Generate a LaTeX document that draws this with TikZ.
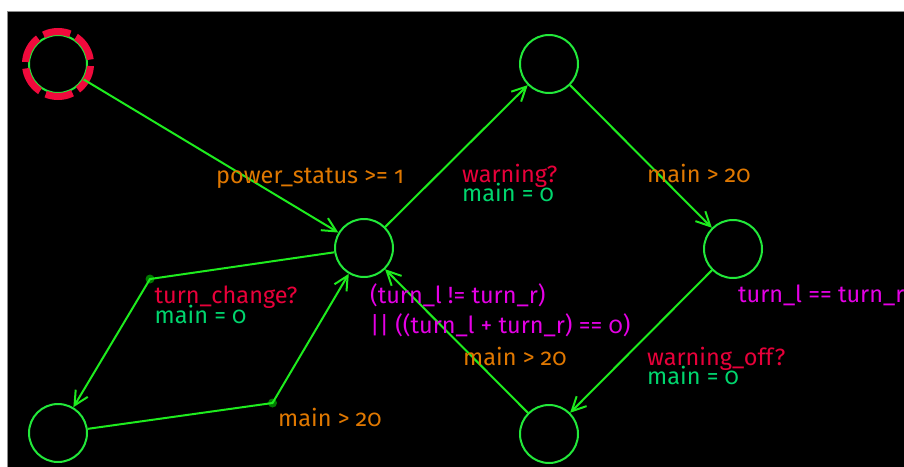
\documentclass[tikz,border=0pt]{standalone}
\usepackage{fontspec}
\setmainfont{Fira Sans}[Numbers=OldStyle]
\usetikzlibrary{arrows.meta}
\definecolor{stategreen}{RGB}{34,232,58}
\definecolor{edgegreen}{RGB}{30,236,30}
\definecolor{nailgreen}{RGB}{0,122,0}
\definecolor{syncred}{RGB}{232,0,58}
\definecolor{guardorange}{RGB}{224,120,0}
\definecolor{assigngreen}{RGB}{0,214,110}
\definecolor{invmagenta}{RGB}{230,0,230}
\definecolor{initred}{RGB}{240,10,60}
% let two-line labels keep their fixed baseline distance
\setlength{\lineskiplimit}{-30pt}
\begin{document}
\begin{tikzpicture}[x=1pt,y=-1pt,
  state/.style={circle, draw=stategreen, line width=2pt, minimum size=58pt, inner sep=0pt},
  edge/.style={draw=edgegreen, line width=2pt, -{Straight Barb[length=14pt,width=14pt]}},
  nail/.style={circle, fill=nailgreen, minimum size=9pt, inner sep=0pt},
  lbl/.style={anchor=base west, inner sep=0pt, font=\fontsize{23.5}{26}\selectfont},
  guard/.style={lbl, text=guardorange},
  inv/.style={lbl, text=invmagenta},
  % synchronisation (red) over update (green), set tight as one block;
  % its base anchor sits on the baseline of the update line
  syncupd/.style={lbl, align=left, font=\fontsize{23.5}{19.5}\selectfont},
  initring/.style={draw=initred, line width=7pt, dash pattern=on 27.53pt off 6.5pt, dash phase=29.6pt}]
\useasboundingbox (0,0) rectangle (904,466);
\fill[white] (0,0) rectangle (904,466);
\filldraw[fill=black, draw=black!45, line width=0.8pt] (7,11) rectangle (906,468);
\begin{scope}
\clip (7,11) rectangle (904,466);

% locations
\node[state] (A) at (58,64) {};
\node[state] (B) at (364,248) {};
\node[state] (C) at (549,64) {};
\node[state] (D) at (733,249) {};
\node[state] (E) at (549,434) {};
\node[state] (F) at (58,433) {};
\draw[initring] (A.center) circle[radius=32.5pt];

% nails
\node[nail] (n1) at (150,279) {};
\node[nail] (n2) at (272.5,403) {};

% transitions
\draw[edge] (A) -- (B);
\draw[edge] (B) -- (C);
\draw[edge] (C) -- (D);
\draw[edge] (D) -- (E);
\draw[edge] (E) -- (B);
\draw[edge] (B) -- (n1.center) -- (F);
\draw[edge] (F) -- (n2.center) -- (B);

% labels
\node[guard] (gAB) at (216,183) {power\_status >= 1};
\node[syncupd] (sBC) at (462,201.5) {\textcolor{syncred}{warning?}\\\textcolor{assigngreen}{main = 0}};
\node[guard] (gCD) at (647,182) {main > 20};
\node[inv] (iD) at (738,302) {turn\_l == turn\_r};
\node[syncupd] (sDE) at (647,384.5) {\textcolor{syncred}{warning\_off?}\\\textcolor{assigngreen}{main = 0}};
\node[inv] (iB) at (370,303) {(turn\_l != turn\_r)};
\node[inv] (iB2) at (370,333.5) {|| ((turn\_l + turn\_r) == 0)};
\node[guard] (gEB) at (463,365) {main > 20};
\node[syncupd] (sBF) at (154.5,323) {\textcolor{syncred}{turn\_change?}\\\textcolor{assigngreen}{main = 0}};
\node[guard] (gFB) at (278,426) {main > 20};
\end{scope}
\end{tikzpicture}
\end{document}
